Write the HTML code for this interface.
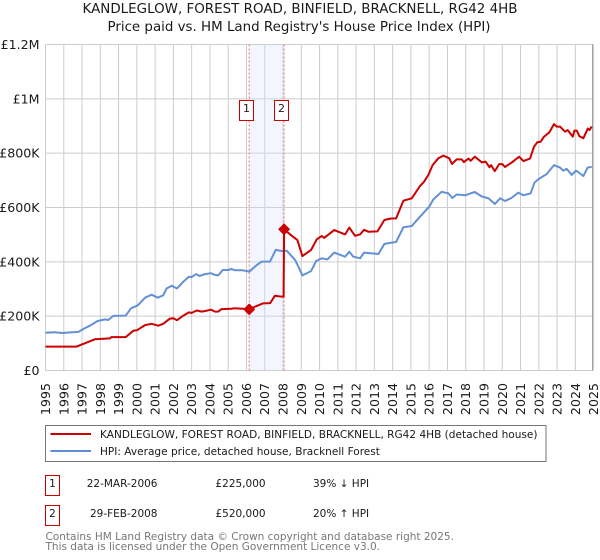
<!DOCTYPE html>
<html lang="en">
<head>
<meta charset="utf-8">
<title>KANDLEGLOW price paid vs HPI</title>
<style>
html,body{margin:0;padding:0;background:#fff;}
svg{display:block;font-family:"DejaVu Sans","Liberation Sans",sans-serif;}
text{fill:#1a1a1a;}
</style>
</head>
<body>
<svg id="chart" xmlns="http://www.w3.org/2000/svg" width="600" height="560" viewBox="0 0 600 560">
  <text x="300" y="13" text-anchor="middle" font-size="13.4" textLength="435" lengthAdjust="spacingAndGlyphs">KANDLEGLOW, FOREST ROAD, BINFIELD, BRACKNELL, RG42 4HB</text>
  <text x="299" y="31" text-anchor="middle" font-size="13.4" textLength="383" lengthAdjust="spacingAndGlyphs">Price paid vs. HM Land Registry's House Price Index (HPI)</text>
  <g id="grid"></g>
  <g id="band"></g>
  <g id="series"></g>
  <g id="xlabels"></g>
  <g id="ylabels"></g>

  <g>
    <rect x="45.5" y="425.5" width="500.5" height="36" fill="#fff" stroke="#777" stroke-width="1"></rect>
    <line x1="50.5" x2="91" y1="434" y2="434" stroke="#cc0000" stroke-width="2"></line>
    <text x="100" y="438" font-size="10.55">KANDLEGLOW, FOREST ROAD, BINFIELD, BRACKNELL, RG42 4HB (detached house)</text>
    <line x1="50.5" x2="91" y1="451" y2="451" stroke="#5f8dd3" stroke-width="2"></line>
    <text x="100" y="455" font-size="10.55">HPI: Average price, detached house, Bracknell Forest</text>
  </g>

  <g font-size="10.5">
    <rect x="45.5" y="475.5" width="14" height="20" fill="#fff" stroke="#cc0000"></rect>
    <text x="52.5" y="487" text-anchor="middle">1</text>
    <text x="157.5" y="487" text-anchor="end">22-MAR-2006</text>
    <text x="215.5" y="487">£225,000</text>
    <text x="313" y="487">39% ↓ HPI</text>
    <rect x="45.5" y="505.5" width="14" height="20" fill="#fff" stroke="#cc0000"></rect>
    <text x="52.5" y="517" text-anchor="middle">2</text>
    <text x="157.5" y="517" text-anchor="end">29-FEB-2008</text>
    <text x="215.5" y="517">£520,000</text>
    <text x="313" y="517">20% ↑ HPI</text>
  </g>

  <text x="45.5" y="540" font-size="10.5" style="fill:#777">Contains HM Land Registry data © Crown copyright and database right 2025.</text>
  <text x="45.5" y="550" font-size="10.5" style="fill:#777">This data is licensed under the Open Government Licence v3.0.</text>
</svg>
<script>
var xTicks = [1995,1996,1997,1998,1999,2000,2001,2002,2003,2004,2005,2006,2007,2008,2009,2010,2011,2012,2013,2014,2015,2016,2017,2018,2019,2020,2021,2022,2023,2024,2025];
var yTicks = [0,200000,400000,600000,800000,1000000,1200000];
var yTickLabels = ['£0','£200K','£400K','£600K','£800K','£1M','£1.2M'];
var hpiYears = [1995,1995.5,1995.9,1996.3,1996.8,1997.16,1997.43,1997.84,1998.25,1998.43,1998.71,1999.39,1999.68,2000.05,2000.45,2000.81,2001.14,2001.44,2001.63,2001.9,2002.2,2002.54,2002.85,2003,2003.25,2003.43,2003.74,2004.05,2004.28,2004.46,2004.7,2005,2005.18,2005.36,2005.8,2006.16,2006.56,2006.84,2007.29,2007.6,2007.93,2008.2,2008.66,2008.84,2009.06,2009.54,2009.81,2010.12,2010.43,2010.8,2011.4,2011.63,2011.85,2012.22,2012.44,2013.22,2013.55,2013.95,2014.19,2014.59,2015.05,2015.5,2016,2016.23,2016.68,2017.05,2017.27,2017.5,2017.96,2018.5,2018.87,2019.24,2019.6,2019.88,2020.15,2020.5,2020.88,2021.15,2021.55,2021.76,2021.97,2022.43,2022.83,2023.16,2023.34,2023.53,2023.8,2024.04,2024.44,2024.67,2024.9];
var hpiValues = [139,141,138,140,142,156,165,182,188,186,201,202,229,240,268,279,268,277,302,312,302,327,345,344,355,348,355,358,352,350,370,370,374,369,369,364,388,401,401,444,440,441,407,382,350,366,403,413,409,434,419,437,419,413,434,429,466,471,473,527,532,566,603,630,658,652,635,648,645,657,641,634,613,634,624,635,655,645,652,691,704,723,756,747,736,742,720,736,716,747,750];
var paidYears = [1995,1996.7,1997.7,1998.53,1998.6,1999.39,1999.8,2000,2000.45,2000.81,2001.17,2001.44,2001.81,2002,2002.2,2002.54,2002.85,2003,2003.27,2003.55,2003.74,2004.06,2004.28,2004.46,2004.64,2005.18,2005.3,2005.8,2006.15,2006.5,2006.9,2007.3,2007.55,2007.9,2008.03,2008.06,2008.39,2008.79,2009.06,2009.54,2009.85,2010.12,2010.25,2010.8,2011.4,2011.63,2011.94,2012.22,2012.44,2012.67,2013.17,2013.55,2013.86,2014.19,2014.59,2015.05,2015.5,2015.72,2015.96,2016.19,2016.5,2016.78,2017.1,2017.25,2017.5,2017.78,2017.9,2018.15,2018.27,2018.5,2018.88,2019.09,2019.3,2019.39,2019.59,2019.84,2020.02,2020.15,2020.52,2020.92,2021.16,2021.52,2021.74,2021.92,2022.1,2022.29,2022.58,2022.83,2022.98,2023.16,2023.44,2023.58,2023.86,2023.95,2024.08,2024.22,2024.44,2024.68,2024.77,2024.9];
var paidValues = [88,88,115,118,123,123,146,148,167,172,165,172,191,192,185,202,214,212,221,217,219,224,217,217,226,227,229,227,225,236,247,248,275,272,272,520,501,480,421,444,483,495,488,517,501,526,496,501,518,511,512,554,559,560,625,634,679,695,720,756,781,791,781,760,777,777,767,780,772,787,766,769,748,756,734,760,759,749,766,787,771,780,824,840,842,861,877,907,898,898,879,885,861,883,883,863,855,891,885,898];
var saleYears = [2006.15,2008.06];
var saleValues = [225,520];
var saleNumbers = ['1','2'];

var NS = 'http://www.w3.org/2000/svg';
function xPos(year){ return 45.5 + (year - 1995) * 18.27; }
function yPos(thousands){ return 370.5 - thousands * 0.27165; }
function make(tag, parent){
  var el = document.createElementNS(NS, tag);
  parent.appendChild(el);
  return el;
}
function linePath(xs, ys){
  return xs.map(function(v, i){ return (i ? 'L' : 'M') + xPos(v).toFixed(1) + ' ' + yPos(ys[i]).toFixed(1); }).join('');
}
var grid = document.getElementById('grid');
var band = document.getElementById('band');
var series = document.getElementById('series');
var xlabels = document.getElementById('xlabels');
var ylabels = document.getElementById('ylabels');

xTicks.forEach(function(t){
  var l = make('line', grid);
  
  
  l.setAttribute('x1', xPos(t)); l.setAttribute('x2', xPos(t));
  l.setAttribute('y1', yPos(1200)); l.setAttribute('y2', yPos(0));
  l.setAttribute('stroke', '#cccccc'); l.setAttribute('stroke-width', '1');
  var s = make('text', xlabels);
  
  
  s.setAttribute('font-size', '12.6');
  s.setAttribute('text-anchor', 'end');
  s.setAttribute('transform', 'translate(' + (xPos(t) + 4.5) + ',383) rotate(-90)');
  s.textContent = String(t);
});
yTicks.forEach(function(t, i){
  var l = make('line', grid);
  
  
  l.setAttribute('x1', xPos(1995)); l.setAttribute('x2', xPos(2025));
  l.setAttribute('y1', yPos(t / 1000)); l.setAttribute('y2', yPos(t / 1000));
  l.setAttribute('stroke', '#cccccc'); l.setAttribute('stroke-width', '1');
  var s = make('text', ylabels);
  
  
  s.setAttribute('font-size', '12.6');
  s.setAttribute('text-anchor', 'end');
  s.setAttribute('x', '39.5');
  s.setAttribute('y', yPos(t / 1000) + 4.5);
  s.textContent = yTickLabels[i];
});
var edge = make('line', grid);


edge.setAttribute('x1', '592.5'); edge.setAttribute('x2', '592.5');
edge.setAttribute('y1', yPos(1200)); edge.setAttribute('y2', yPos(0));
edge.setAttribute('stroke', '#a0a0a0'); edge.setAttribute('stroke-width', '1');

var shade = make('rect', band);


shade.setAttribute('x', xPos(saleYears[0]));
shade.setAttribute('width', xPos(saleYears[1]) - xPos(saleYears[0]));
shade.setAttribute('y', yPos(1200));
shade.setAttribute('height', yPos(0) - yPos(1200));
shade.setAttribute('fill', '#d6e2fb');
shade.setAttribute('fill-opacity', '0.3');
saleYears.forEach(function(t){
  var l = make('line', band);
  
  
  l.setAttribute('x1', xPos(t)); l.setAttribute('x2', xPos(t));
  l.setAttribute('y1', yPos(1200)); l.setAttribute('y2', yPos(0));
  l.setAttribute('stroke', '#ee7777'); l.setAttribute('stroke-width', '1');
  l.setAttribute('stroke-dasharray', '2 2');
});

var hpi = make('path', series);


hpi.setAttribute('d', linePath(hpiYears, hpiValues));
hpi.setAttribute('fill', 'none');
hpi.setAttribute('stroke', '#6490d4');
hpi.setAttribute('stroke-width', '2');
hpi.setAttribute('stroke-linejoin', 'round');

var paid = make('path', series);


paid.setAttribute('d', linePath(paidYears, paidValues));
paid.setAttribute('fill', 'none');
paid.setAttribute('stroke', '#cc0000');
paid.setAttribute('stroke-width', '2');
paid.setAttribute('stroke-linejoin', 'round');

saleYears.forEach(function(t, i){
  var cx = xPos(t), cy = yPos(saleValues[i]);
  var d = make('path', series);
  
  
  d.setAttribute('d', 'M' + cx + ' ' + (cy - 6) + 'L' + (cx + 6) + ' ' + cy + 'L' + cx + ' ' + (cy + 6) + 'L' + (cx - 6) + ' ' + cy + 'Z');
  d.setAttribute('fill', '#cc0000');
  var b = make('rect', series);
  
  
  b.setAttribute('x', Math.round(cx) - 9.5);
  b.setAttribute('y', '100.5');
  b.setAttribute('width', '14');
  b.setAttribute('height', '20');
  b.setAttribute('fill', '#fff');
  b.setAttribute('stroke', '#cc0000');
  var n = make('text', series);
  
  
  n.setAttribute('x', Math.round(cx) - 2.5);
  n.setAttribute('y', '112');
  n.setAttribute('text-anchor', 'middle');
  n.setAttribute('font-size', '11');
  n.textContent = saleNumbers[i];
});
</script>
</body>
</html>
